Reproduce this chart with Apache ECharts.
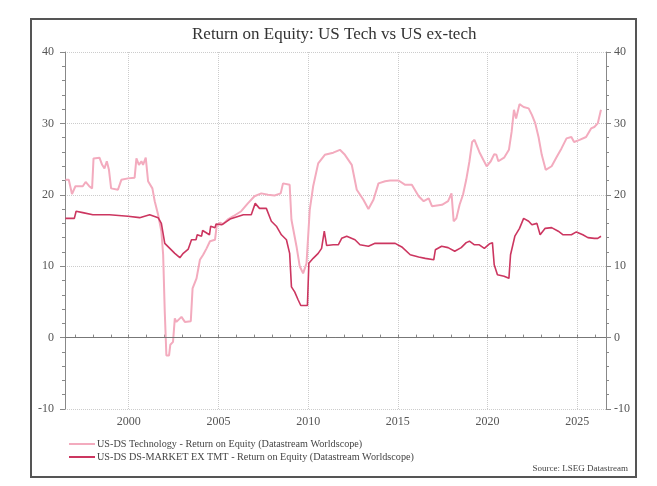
<!DOCTYPE html>
<html>
<head>
<meta charset="utf-8">
<script src="https://cdn.jsdelivr.net/npm/echarts@6/dist/echarts.min.js"></script>
<style>
  html, body { margin: 0; padding: 0; background: #fff; }
  #chart { width: 657px; height: 486px; }
</style>
</head>
<body>
<div id="chart"></div>
<script>
// US-DS Technology - Return on Equity (decimal year, %)
var techYears = [1996.47, 1996.66, 1996.84, 1997.03, 1997.44, 1997.6, 1997.8, 1997.96, 1998.04, 1998.37,
  1998.52, 1998.65, 1998.78, 1998.9, 1999.02, 1999.4, 1999.59, 1999.96, 2000.33, 2000.43,
  2000.57, 2000.71, 2000.8, 2000.95, 2001.08, 2001.32, 2001.45, 2001.64, 2001.82, 2001.92,
  2002.01, 2002.1, 2002.25, 2002.32, 2002.47, 2002.57, 2002.66, 2002.94, 2003.13, 2003.46,
  2003.56, 2003.78, 2003.97, 2004.15, 2004.34, 2004.53, 2004.81, 2004.9, 2005.09, 2005.27,
  2005.55, 2005.83, 2006.27, 2006.64, 2007.01, 2007.39, 2007.76, 2008.13, 2008.47, 2008.6,
  2008.97, 2009.07, 2009.35, 2009.53, 2009.72, 2009.91, 2010.09, 2010.28, 2010.56, 2010.93,
  2011.4, 2011.77, 2012.05, 2012.43, 2012.71, 2013.08, 2013.36, 2013.64, 2013.92, 2014.29,
  2014.57, 2015.04, 2015.41, 2015.78, 2016.16, 2016.44, 2016.72, 2016.9, 2017.46, 2017.8,
  2017.99, 2018.11, 2018.26, 2018.44, 2018.63, 2018.81, 2018.99, 2019.14, 2019.27, 2019.54,
  2019.76, 2019.95, 2020.18, 2020.37, 2020.49, 2020.6, 2020.92, 2021.19, 2021.34, 2021.47,
  2021.59, 2021.78, 2022.01, 2022.29, 2022.47, 2022.66, 2022.84, 2023.02, 2023.24, 2023.57,
  2023.85, 2024.12, 2024.4, 2024.67, 2024.82, 2025.13, 2025.49, 2025.77, 2025.95, 2026.14,
  2026.32];
var techRoe = [22.1, 22.1, 20.1, 21.2, 21.2, 21.8, 21.2, 20.9, 25.1, 25.2,
  24.2, 23.7, 24.7, 23.5, 20.9, 20.7, 22.1, 22.3, 22.4, 25.1,
  24.2, 24.7, 24.2, 25.2, 21.9, 20.9, 19.1, 17.2, 14.9, 11.6,
  3.6, -2.5, -2.5, -1.0, -0.6, 2.7, 2.2, 2.9, 2.2, 2.3,
  6.9, 8.3, 10.9, 11.6, 12.5, 13.5, 13.7, 15.6, 16.1, 15.9,
  16.6, 17.0, 17.7, 18.8, 19.8, 20.2, 20.0, 19.9, 20.2, 21.6,
  21.4, 16.5, 12.8, 10.0, 9.0, 10.4, 17.9, 21.2, 24.4, 25.6,
  25.9, 26.3, 25.6, 24.2, 20.7, 19.3, 18.0, 19.3, 21.6, 21.9,
  22.0, 22.0, 21.4, 21.4, 19.8, 19.1, 19.5, 18.4, 18.6, 19.1,
  20.2, 16.3, 16.7, 18.6, 20.0, 22.1, 24.7, 27.4, 27.7, 26.0,
  24.9, 24.0, 24.7, 25.7, 25.6, 24.7, 25.2, 26.3, 28.8, 31.9,
  30.7, 32.7, 32.3, 32.1, 31.2, 30.0, 28.1, 25.6, 23.5, 24.0,
  25.3, 26.5, 27.9, 28.1, 27.4, 27.7, 28.1, 29.3, 29.5, 30.0,
  31.9];

// US-DS DS-MARKET EX TMT - Return on Equity (decimal year, %)
var exYears = [1996.47, 1996.97, 1997.07, 1997.44, 1998.0, 1998.93, 1999.96, 2000.61, 2001.17, 2001.64,
  2001.82, 2002.01, 2002.29, 2002.57, 2002.85, 2003.04, 2003.32, 2003.5, 2003.75, 2003.82,
  2004.06, 2004.12, 2004.5, 2004.57, 2004.81, 2004.87, 2005.18, 2005.65, 2006.39, 2006.83,
  2007.05, 2007.29, 2007.67, 2007.95, 2008.23, 2008.51, 2008.79, 2008.97, 2009.07, 2009.25,
  2009.44, 2009.59, 2009.96, 2010.04, 2010.28, 2010.56, 2010.75, 2010.9, 2011.03, 2011.4,
  2011.68, 2011.87, 2012.15, 2012.61, 2012.89, 2013.36, 2013.73, 2014.29, 2014.85, 2015.22,
  2015.69, 2016.16, 2016.53, 2017.0, 2017.09, 2017.44, 2017.8, 2018.17, 2018.53, 2018.81,
  2018.99, 2019.27, 2019.54, 2019.82, 2020.09, 2020.27, 2020.37, 2020.55, 2020.92, 2021.19,
  2021.28, 2021.52, 2021.78, 2022.01, 2022.29, 2022.47, 2022.75, 2022.93, 2023.21, 2023.57,
  2023.94, 2024.21, 2024.67, 2024.95, 2025.31, 2025.59, 2025.95, 2026.14, 2026.32];
var exRoe = [16.7, 16.7, 17.7, 17.5, 17.2, 17.2, 17.0, 16.8, 17.2, 16.8,
  16.0, 13.2, 12.5, 11.8, 11.2, 11.8, 12.4, 13.7, 13.7, 14.4,
  14.2, 15.0, 14.4, 15.6, 15.4, 15.9, 15.8, 16.6, 17.2, 17.2,
  18.8, 18.1, 18.1, 16.3, 15.6, 14.4, 13.7, 11.8, 7.1, 6.4,
  5.3, 4.5, 4.5, 10.4, 11.1, 11.8, 12.5, 14.9, 12.9, 13.0,
  13.0, 13.9, 14.2, 13.7, 13.0, 12.8, 13.2, 13.2, 13.2, 12.7,
  11.6, 11.3, 11.1, 10.9, 12.3, 12.8, 12.6, 12.1, 12.6, 13.3,
  13.5, 13.0, 13.0, 12.5, 13.1, 13.3, 10.2, 8.8, 8.6, 8.3,
  11.6, 14.2, 15.3, 16.7, 16.3, 15.8, 16.0, 14.4, 15.3, 15.4,
  14.9, 14.4, 14.4, 14.8, 14.4, 14.0, 13.9, 13.9, 14.2];

var labelYears = [2000, 2005, 2010, 2015, 2020, 2025];
var tickYears = [1997, 1998, 1999, 2000, 2001, 2002, 2003, 2004, 2005, 2006, 2007, 2008, 2009, 2010,
  2011, 2012, 2013, 2014, 2015, 2016, 2017, 2018, 2019, 2020, 2021, 2022, 2023, 2024, 2025, 2026];

var seriesNames = [
  'US-DS Technology - Return on Equity (Datastream Worldscope)',
  'US-DS DS-MARKET EX TMT - Return on Equity (Datastream Worldscope)'
];

function zip(xs, ys) {
  return xs.map(function (x, i) { return [x, ys[i]]; });
}

var serif = '"Liberation Serif", "DejaVu Serif", serif';
var chart = echarts.init(document.getElementById('chart'));

var yAxisBase = {
  type: 'value',
  min: -10,
  max: 40,
  interval: 10,
  axisLine: { show: true, lineStyle: { color: '#888', width: 1 } },
  axisTick: { show: true, length: 5, lineStyle: { color: '#888' } },
  minorTick: { show: true, splitNumber: 5, length: 3, lineStyle: { color: '#888' } },
  axisLabel: { fontFamily: serif, fontSize: 12, color: '#555' }
};

var option = {
  animation: false,
  backgroundColor: '#fff',
  title: {
    text: 'Return on Equity: US Tech vs US ex-tech',
    left: 187,
    top: 21,
    textStyle: { fontFamily: serif, fontSize: 17, fontWeight: 'normal', color: '#333' }
  },
  legend: {
    orient: 'vertical',
    left: 64,
    top: 434,
    itemWidth: 26,
    itemHeight: 2,
    itemGap: 3,
    icon: 'rect',
    textStyle: { fontFamily: serif, fontSize: 10.2, color: '#444', padding: [0, 0, 0, -3] },
    data: seriesNames
  },
  grid: { left: 65, right: 51, top: 52, bottom: 77 },
  xAxis: [{
    type: 'value',
    min: 1996.45,
    max: 2026.6,
    axisLine: { show: true, lineStyle: { color: '#888' } },
    axisTick: { show: false, customValues: labelYears },
    axisLabel: {
      customValues: labelYears,
      formatter: function (v) { return String(v); },
      fontFamily: serif, fontSize: 12, color: '#555', margin: 7
    },
    splitLine: { show: true, lineStyle: { color: '#ccc', type: 'dotted' } }
  }, {
    type: 'value',
    position: 'bottom',
    min: 1996.45,
    max: 2026.6,
    axisLine: { show: true, lineStyle: { color: '#888' } },
    axisTick: { show: true, inside: true, length: 3, customValues: tickYears, lineStyle: { color: '#888' } },
    axisLabel: { show: false },
    splitLine: { show: false }
  }],
  yAxis: [
    Object.assign({}, yAxisBase, {
      position: 'left',
      axisLabel: Object.assign({}, yAxisBase.axisLabel, { margin: 11 }),
      splitLine: { show: true, lineStyle: { color: '#ccc', type: 'dotted' } }
    }),
    Object.assign({}, yAxisBase, {
      position: 'right',
      axisLabel: Object.assign({}, yAxisBase.axisLabel, { margin: 8 }),
      splitLine: { show: false }
    })
  ],
  series: [
    {
      name: seriesNames[0],
      type: 'line',
      showSymbol: false,
      symbol: 'none',
      color: '#f3abbe',
      lineStyle: { width: 2, color: '#f3abbe' },
      data: zip(techYears, techRoe),
      z: 2
    },
    {
      name: seriesNames[1],
      type: 'line',
      showSymbol: false,
      symbol: 'none',
      color: '#cc3660',
      lineStyle: { width: 1.6, color: '#cc3660' },
      data: zip(exYears, exRoe),
      z: 3,
      markLine: {
        silent: true,
        symbol: 'none',
        label: { show: false },
        lineStyle: { color: '#777', type: 'solid', width: 1 },
        data: [{ yAxis: 0 }]
      }
    }
  ],
  graphic: [
    {
      type: 'rect',
      shape: { x: 31, y: 19, width: 605, height: 458 },
      style: { fill: 'none', stroke: '#555', lineWidth: 2 },
      silent: true
    },
    {
      type: 'text',
      right: 29,
      top: 464,
      style: { text: 'Source: LSEG Datastream', font: '9px ' + serif, fill: '#444' }
    }
  ]
};

chart.setOption(option);
</script>
</body>
</html>
